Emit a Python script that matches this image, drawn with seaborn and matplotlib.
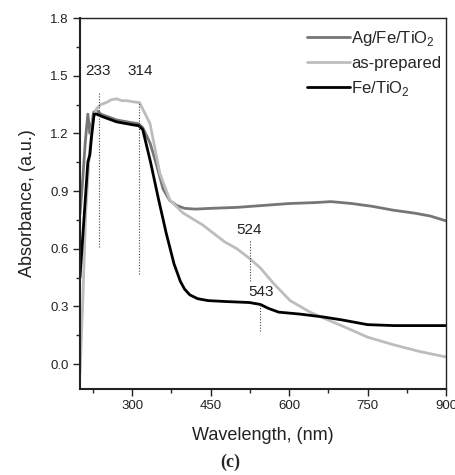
import numpy as np
import pandas as pd
import seaborn as sns
import matplotlib
matplotlib.use("Agg")
import matplotlib.pyplot as plt

# values
ag_x = [200, 205, 210, 215, 219, 222, 226, 232, 240, 250, 260, 270, 280, 290, 300, 312,
        320, 334, 345, 359, 372, 385, 400, 420, 450, 500, 550, 600, 650, 680, 720, 760,
        800, 840, 870, 900]
ag_y = [0.78, 0.95, 1.15, 1.30, 1.20, 1.24, 1.31, 1.32, 1.30, 1.29, 1.28, 1.27, 1.265, 1.26,
        1.255, 1.25, 1.23, 1.15, 1.05, 0.91, 0.85, 0.825, 0.81, 0.806, 0.81, 0.815, 0.825,
        0.835, 0.84, 0.845, 0.835, 0.82, 0.80, 0.785, 0.77, 0.745]

prep_x = [200, 205, 211, 218, 225, 232, 240, 250, 260, 270, 280, 290, 300, 314, 325, 334,
          353, 372, 397, 435, 477, 500, 524, 545, 570, 602, 640, 665, 700, 750, 800, 850, 900]
prep_y = [-0.05, 0.30, 0.79, 1.10, 1.28, 1.33, 1.35, 1.36, 1.375, 1.38, 1.37, 1.37, 1.365,
          1.36, 1.30, 1.25, 0.99, 0.853, 0.786, 0.723, 0.635, 0.60, 0.55, 0.50, 0.42, 0.33,
          0.27, 0.24, 0.20, 0.14, 0.10, 0.065, 0.037]

fe_x = [200, 205, 210, 215, 219, 222, 227, 232, 240, 250, 260, 270, 280, 290, 300, 312, 320,
        335, 350, 365, 380, 392, 400, 410, 425, 445, 480, 524, 545, 560, 580, 620, 665, 700,
        750, 800, 850, 900]
fe_y = [0.45, 0.65, 0.85, 1.05, 1.09, 1.18, 1.30, 1.30, 1.29, 1.28, 1.27, 1.26, 1.255, 1.25,
        1.245, 1.24, 1.22, 1.05, 0.86, 0.68, 0.52, 0.43, 0.39, 0.36, 0.34, 0.33, 0.325, 0.32,
        0.31, 0.29, 0.27, 0.26, 0.245, 0.23, 0.205, 0.20, 0.20, 0.20]

series_names = ["Ag/Fe/TiO$_\\mathrm{2}$", "as-prepared", "Fe/TiO$_\\mathrm{2}$"]
series_colors = ["#767676", "#bdbdbd", "#000000"]

# peak markers: label, line x, line bottom, line top, label position
peak_labels = ["233", "314", "524", "543"]
peak_x = [237, 312, 525, 544]
peak_lo = [0.61, 0.47, 0.43, 0.17]
peak_hi = [1.41, 1.36, 0.645, 0.32]
label_x = [235, 316, 523, 547]
label_y = [1.49, 1.49, 0.66, 0.34]

df = pd.concat([
    pd.DataFrame({"Wavelength": ag_x, "Absorbance": ag_y, "sample": series_names[0]}),
    pd.DataFrame({"Wavelength": prep_x, "Absorbance": prep_y, "sample": series_names[1]}),
    pd.DataFrame({"Wavelength": fe_x, "Absorbance": fe_y, "sample": series_names[2]}),
])

sns.set_theme(style="ticks")
plt.rcParams["font.family"] = ["Liberation Sans", "DejaVu Sans"]
plt.rcParams["mathtext.fontset"] = "custom"
plt.rcParams["mathtext.rm"] = "Liberation Sans"

fig = plt.figure(figsize=(4.56, 4.75), dpi=100)
ax = fig.add_axes([0.1754, 0.181, 0.8026, 0.781])

sns.lineplot(data=df, x="Wavelength", y="Absorbance", hue="sample",
             hue_order=series_names, palette=series_colors, linewidth=2,
             estimator=None, sort=False, ax=ax)

for lab, px, lo, hi, lx, ly in zip(peak_labels, peak_x, peak_lo, peak_hi, label_x, label_y):
    ax.vlines(px, lo, hi, colors="#444444", linestyles=(0, (1, 1.5)), linewidth=0.8)
    ax.text(lx, ly, lab, ha="center", va="bottom", fontsize=11, color="#222222")

ax.set_xlim(200, 900)
ax.set_ylim(-0.13, 1.8)
ax.set_xticks([300, 450, 600, 750, 900])
ax.set_xticks([225, 375, 525, 675, 825], minor=True)
ax.set_yticks([0.0, 0.3, 0.6, 0.9, 1.2, 1.5, 1.8])
ax.set_yticks([0.15, 0.45, 0.75, 1.05, 1.35, 1.65], minor=True)
ax.set_yticklabels(["0.0", "0.3", "0.6", "0.9", "1.2", "1.5", "1.8"])
ax.tick_params(axis="both", which="major", length=5, width=1, labelsize=9.5,
               colors="#222222", pad=3)
ax.tick_params(axis="both", which="minor", length=3, width=1)
for side in ["left", "bottom"]:
    ax.spines[side].set_linewidth(1.5)
for side in ["top", "right"]:
    ax.spines[side].set_linewidth(1.0)
for sp in ax.spines.values():
    sp.set_color("#222222")

ax.set_xlabel("Wavelength, (nm)", fontsize=13, color="#222222", labelpad=11)
ax.set_ylabel("Absorbance, (a.u.)", fontsize=13, color="#222222", labelpad=10)

handles, labels = ax.get_legend_handles_labels()
ax.legend(handles, labels, loc="upper right", bbox_to_anchor=(1.0, 0.985),
          frameon=False, fontsize=12, handlelength=2.6, handletextpad=0.05,
          borderaxespad=0.1, labelspacing=0.5, borderpad=0.2)

fig.text(0.505, 0.027, "(c)", ha="center", va="center", fontsize=13,
         family=["Liberation Serif", "DejaVu Serif"], fontweight="bold")

fig.savefig("out.png", dpi=100)
